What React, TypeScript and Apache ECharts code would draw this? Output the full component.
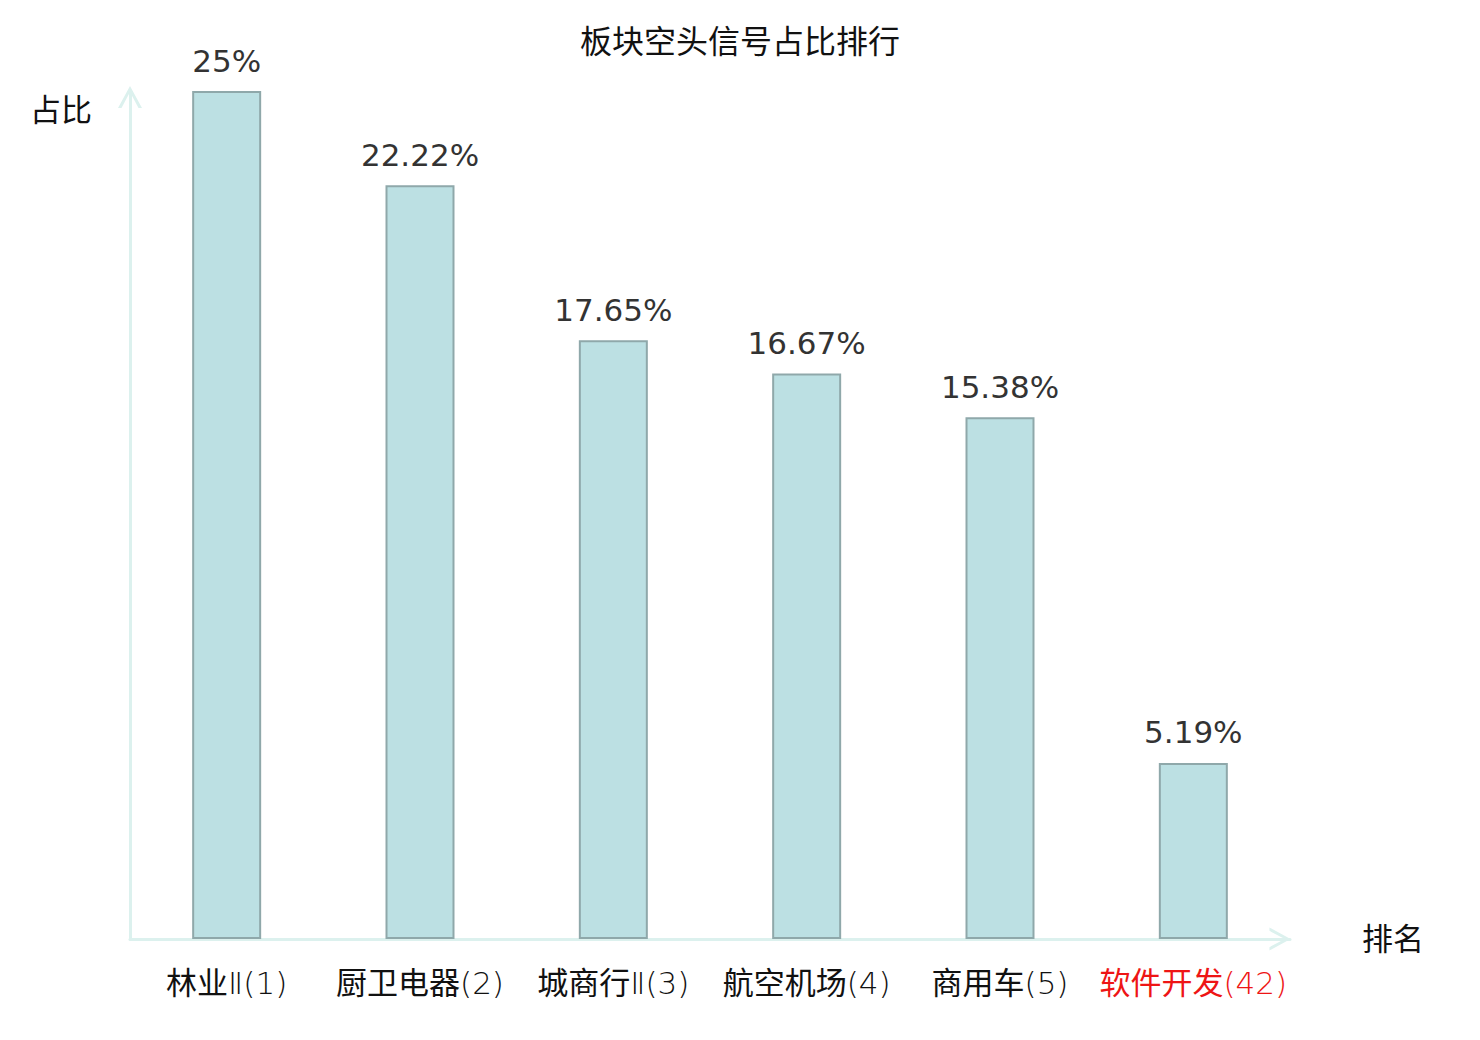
import React, { useEffect, useRef } from "react";
import * as echarts from "echarts";

const titleText = "板块空头信号占比排行";
const categories = ["林业Ⅱ(1)", "厨卫电器(2)", "城商行Ⅱ(3)", "航空机场(4)", "商用车(5)", "软件开发(42)"];
const values = [25, 22.22, 17.65, 16.67, 15.38, 5.19];
const highlightIndex = 5;
const yName = "占比";
const xName = "排名";

const FONT = "'DejaVu Sans', 'Noto Sans CJK SC', sans-serif";
const LABEL_FONT = "'DejaVu Sans ExtraLight', 'DejaVu Sans Light', 'Noto Sans CJK SC', sans-serif";
const AXIS_COLOR = "#dcf1ee";
const CHEVRON = "path://M12,0 L24,22 L20.5,22 L12,6 L3.5,22 L0,22 Z";

export default function App() {
  const ref = useRef<HTMLDivElement>(null);
  useEffect(() => {
    if (!ref.current) return;
    const chart = echarts.init(ref.current, undefined, { renderer: "svg" });
    chart.setOption({
      animation: false,
      backgroundColor: "#ffffff",
      textStyle: { fontFamily: FONT },
      title: {
        text: titleText,
        left: "center",
        top: 21,
        textStyle: { fontSize: 32, fontWeight: "normal", color: "#111", fontFamily: FONT },
      },
      grid: { left: 130, right: 190, top: 91, bottom: 101, containLabel: false },
      xAxis: {
        type: "category",
        data: categories.map((c, i) =>
          i === highlightIndex ? { value: c, textStyle: { color: "#ee1515" } } : c
        ),
        name: xName,
        nameLocation: "end",
        nameGap: 72,
        nameTextStyle: { fontSize: 31, color: "#111", fontFamily: FONT, padding: [4, 0, 0, 0] },
        axisLine: {
          show: true,
          lineStyle: { color: AXIS_COLOR, width: 3 },
          symbol: ["none", CHEVRON],
          symbolSize: [23, 22],
          symbolOffset: [0, -10],
        },
        axisTick: { show: false },
        axisLabel: {
          fontSize: 31,
          color: "#111",
          margin: 28,
          interval: 0,
          fontFamily: LABEL_FONT,
          fontWeight: "normal",
        },
      },
      yAxis: {
        type: "value",
        min: 0,
        max: 25,
        name: yName,
        nameLocation: "end",
        nameGap: -19,
        nameTextStyle: {
          fontSize: 31,
          color: "#111",
          align: "right",
          verticalAlign: "middle",
          padding: [0, 38, 0, 0],
          fontFamily: FONT,
        },
        axisLine: {
          show: true,
          lineStyle: { color: AXIS_COLOR, width: 3 },
          symbol: ["none", CHEVRON],
          symbolSize: [24, 22],
          symbolOffset: [0, -6],
        },
        axisTick: { show: false },
        axisLabel: { show: false },
        splitLine: { show: false },
      },
      series: [
        {
          type: "bar",
          data: values,
          barWidth: 69,
          itemStyle: { color: "#bce0e3", borderColor: "#8fa8aa", borderWidth: 2 },
          label: {
            show: true,
            position: "top",
            distance: 15,
            fontSize: 31,
            color: "#333",
            fontFamily: FONT,
            formatter: (p: any) => `${p.value}%`,
          },
        },
      ],
    });
    return () => chart.dispose();
  }, []);
  return (
    <div
      ref={ref}
      style={{ position: "fixed", left: 0, top: 0, width: 1480, height: 1040 }}
    />
  );
}
